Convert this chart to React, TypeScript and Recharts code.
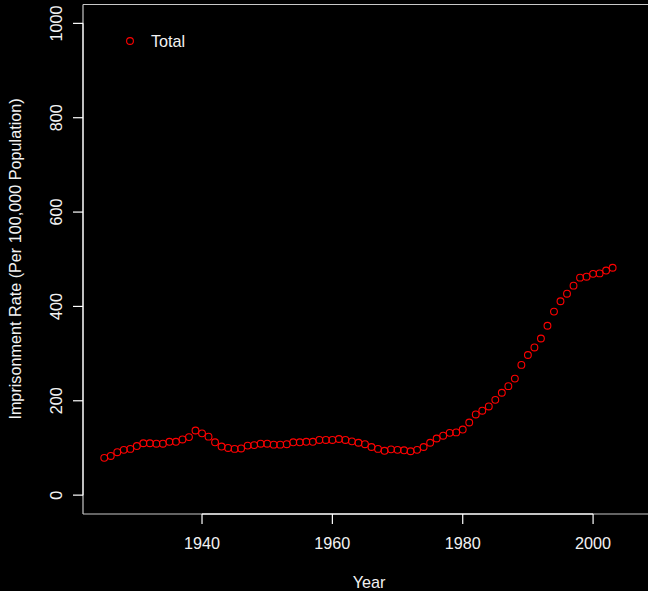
import React from "react";
import {
  ScatterChart,
  Scatter,
  XAxis,
  YAxis,
  ReferenceLine,
} from "recharts";

const years = [
  1925, 1926, 1927, 1928, 1929, 1930, 1931, 1932, 1933, 1934, 1935, 1936,
  1937, 1938, 1939, 1940, 1941, 1942, 1943, 1944, 1945, 1946, 1947, 1948,
  1949, 1950, 1951, 1952, 1953, 1954, 1955, 1956, 1957, 1958, 1959, 1960,
  1961, 1962, 1963, 1964, 1965, 1966, 1967, 1968, 1969, 1970, 1971, 1972,
  1973, 1974, 1975, 1976, 1977, 1978, 1979, 1980, 1981, 1982, 1983, 1984,
  1985, 1986, 1987, 1988, 1989, 1990, 1991, 1992, 1993, 1994, 1995, 1996,
  1997, 1998, 1999, 2000, 2001, 2002, 2003,
];

const total = [
  79, 83, 91, 96, 98, 104, 110, 110, 109, 109, 113, 113,
  118, 123, 137, 131, 124, 112, 103, 100, 98, 99, 105, 106,
  109, 109, 107, 107, 108, 112, 112, 113, 113, 117, 117, 117,
  119, 117, 114, 111, 108, 102, 98, 94, 97, 96, 95, 93,
  96, 102, 111, 120, 126, 132, 133, 139, 154, 171, 179, 188,
  202, 217, 231, 247, 276, 297, 313, 332, 359, 389, 411, 427,
  444, 461, 463, 469, 470, 476, 482,
];

const xTicks = [1940, 1960, 1980, 2000];
const yTicks = [0, 200, 400, 600, 800, 1000];

const data = years.map((year, i) => ({ year, rate: total[i] }));

const X_MIN = 1921.74;
const X_MAX = 2009.5;
const Y_MIN = -40;
const Y_MAX = 1040;

const font = "'Liberation Sans', Arial, sans-serif";
const textColor = "#f2f2f2";
const fs = 16.2;

const OpenCircle = (props: any) => (
  <circle cx={props.cx} cy={props.cy} r={3.4} fill="none" stroke="#ff0000" strokeWidth={1.1} />
);

const XTick = (props: any) => (
  <text x={props.x} y={549} textAnchor="middle" fill={textColor} fontSize={fs} fontFamily={font}>
    {props.payload.value}
  </text>
);

const YTick = (props: any) => (
  <text
    x={62}
    y={props.y}
    transform={`rotate(-90, 62, ${props.y})`}
    textAnchor="middle"
    fill={textColor}
    fontSize={fs}
    fontFamily={font}
  >
    {props.payload.value}
  </text>
);

export default function App() {
  return (
    <div
      style={{
        position: "absolute",
        left: 0,
        top: 0,
        width: 648,
        height: 591,
        overflow: "hidden",
        background: "#000",
      }}
    >
      <ScatterChart width={670} height={591} margin={{ top: 4.5, right: 15, bottom: 0, left: 0 }}>
        <XAxis
          type="number"
          dataKey="year"
          domain={[X_MIN, X_MAX]}
          ticks={xTicks}
          allowDataOverflow
          height={77}
          axisLine={{ stroke: "#c8c8c8", strokeWidth: 1.2 }}
          tickLine={{ stroke: "#ffffff", strokeWidth: 1.2 }}
          tickSize={10}
          tick={<XTick />}
        />
        <YAxis
          type="number"
          dataKey="rate"
          domain={[Y_MIN, Y_MAX]}
          ticks={yTicks}
          allowDataOverflow
          width={83}
          axisLine={{ stroke: "#c8c8c8", strokeWidth: 1.2 }}
          tickLine={{ stroke: "#ffffff", strokeWidth: 1.2 }}
          tickSize={10}
          tick={<YTick />}
        />
        <ReferenceLine y={Y_MAX} stroke="#c8c8c8" strokeWidth={1.2} ifOverflow="visible" />
        <ReferenceLine
          segment={[
            { x: 1940, y: Y_MIN },
            { x: 2000, y: Y_MIN },
          ]}
          stroke="#ffffff"
          strokeWidth={1.4}
          ifOverflow="visible"
        />
        <ReferenceLine
          segment={[
            { x: X_MIN, y: 0 },
            { x: X_MIN, y: 1000 },
          ]}
          stroke="#ffffff"
          strokeWidth={1.4}
          ifOverflow="visible"
        />
        <Scatter data={data} shape={<OpenCircle />} isAnimationActive={false} />
        <circle cx={130} cy={41} r={3.4} fill="none" stroke="#ff0000" strokeWidth={1.1} />
        <text x={151} y={46.5} fill={textColor} fontSize={fs} fontFamily={font}>
          Total
        </text>
        <text x={369} y={588} textAnchor="middle" fill={textColor} fontSize={fs} fontFamily={font}>
          Year
        </text>
        <text
          x={21}
          y={259}
          transform="rotate(-90, 21, 259)"
          textAnchor="middle"
          fill={textColor}
          fontSize={fs}
          fontFamily={font}
        >
          Imprisonment Rate (Per 100,000 Population)
        </text>
      </ScatterChart>
    </div>
  );
}
